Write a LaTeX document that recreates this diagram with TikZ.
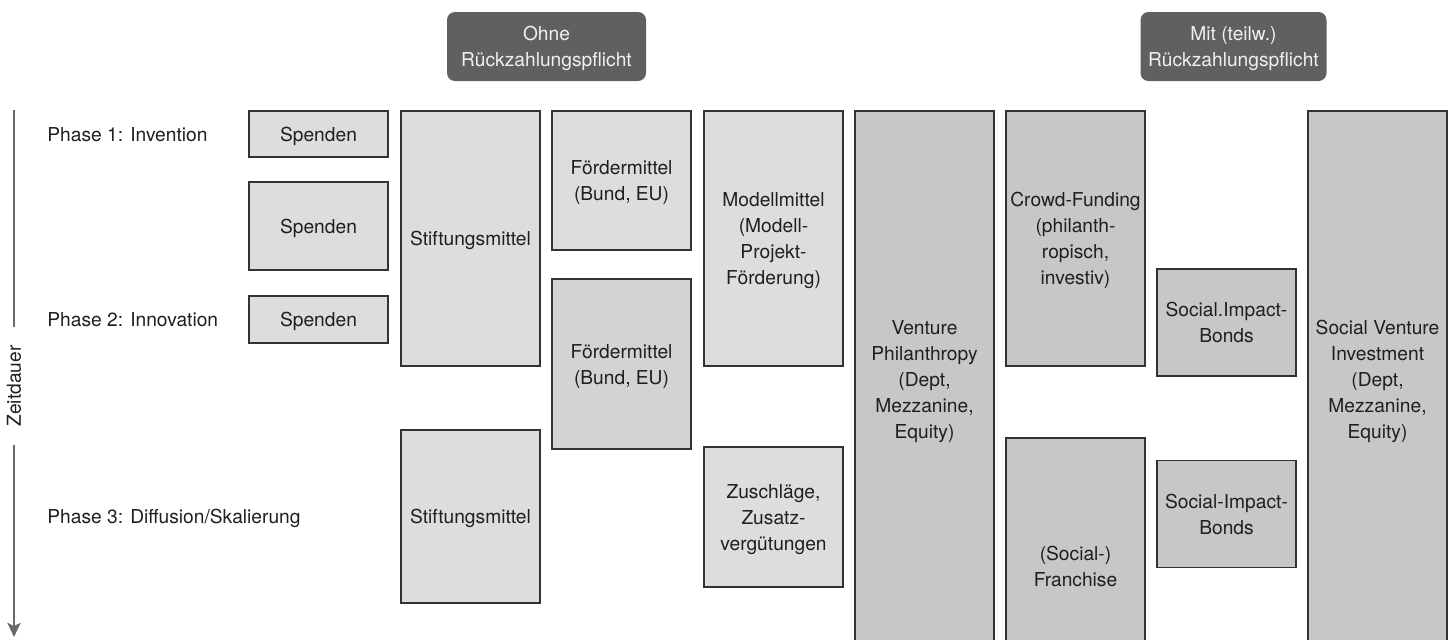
\documentclass[tikz,border=0pt]{standalone}
\usepackage{fontspec}
\setmainfont{TeX Gyre Heros}
\usepackage{xcolor}
\usepackage{tikz}
\usetikzlibrary{arrows.meta,positioning}
\definecolor{hell}{HTML}{DCDDDF}
\definecolor{mittel}{HTML}{D2D3D5}
\definecolor{dunkel}{HTML}{C6C7C9}
\definecolor{kopf}{HTML}{606062}
\definecolor{rand}{HTML}{333333}
\definecolor{pfeil}{HTML}{6A6A6A}
\tikzstyle{kasten}=[draw=rand, line width=0.6pt, text=black!88, align=center, minimum width=69.5pt, inner sep=1pt, text depth=0pt, font=\fontsize{9.6}{13}\selectfont]
\tikzstyle{kopfbox}=[fill=kopf, rounded corners=4pt, text=white!94!black, align=center, minimum height=34.5pt, text depth=0pt, font=\fontsize{9.6}{13}\selectfont]
\tikzstyle{phase}=[anchor=west, inner sep=0pt, text=black!88, text depth=0pt, font=\fontsize{9.6}{13}\selectfont]

\begin{document}
\begin{tikzpicture}[x=0.5pt,y=-0.5pt]

\clip (0,0) rectangle (1456,639);

% Kopf
\node[kopfbox, minimum width=99.5pt] (ohne) at (546.5,46.5) {Ohne\\R\"uckzahlungspflicht};
\node[kopfbox, minimum width=93pt] (mit) at (1233.5,46.5) {Mit (teilw.)\\R\"uckzahlungspflicht};

% Zeitachse
\coordinate (oben) at (14,110);
\coordinate (unten) at (14,637);
\node[rotate=90, inner sep=0pt, outer sep=9pt, text=black!88, font=\fontsize{9.6}{13}\selectfont] (zeit) at (14,386) {Zeitdauer};
\draw[pfeil, line width=1.3pt] (oben) -- (zeit);
\draw[pfeil, line width=1.3pt, -{Stealth[length=7pt,width=6.5pt,inset=1.5pt]}] (zeit) -- (unten);

% Phasen
\node[phase] (ph1) at (47,134) {Phase 1: Invention};
\node[phase] (ph2) at (47,319.5) {Phase 2: Innovation};
\node[phase] (ph3) at (47,516.5) {Phase 3: Diffusion/Skalierung};

% ohne Rueckzahlung
\node[kasten, fill=hell, minimum height=23pt] (sp1) at (318.5,134) {Spenden};
\node[kasten, fill=hell, minimum height=44pt] (sp2) at (318.5,226) {Spenden};
\node[kasten, fill=hell, minimum height=23.5pt] (sp3) at (318.5,319.5) {Spenden};
\node[kasten, fill=hell, minimum height=127.5pt] (st1) at (470.5,238.5) {Stiftungsmittel};
\node[kasten, fill=hell, minimum height=86.5pt] (st2) at (470.5,516.5) {Stiftungsmittel};
\node[kasten, fill=hell, minimum height=69.5pt] (fm1) at (621.5,180.5) {F\"ordermittel\\(Bund, EU)};
\node[kasten, fill=mittel, minimum height=85pt] (fm2) at (621.5,364) {F\"ordermittel\\(Bund, EU)};
\node[kasten, fill=hell, minimum height=127.5pt] (mm) at (773.5,238.5) {Modellmittel\\(Modell-\\Projekt-\\F\"orderung)};
\node[kasten, fill=hell, minimum height=70pt] (zu) at (773.5,517) {Zuschl\"age,\\Zusatz-\\verg\"utungen};

% mit Rueckzahlung
\node[kasten, fill=dunkel, minimum height=268pt] (vp) at (924.5,379) {Venture\\Philanthropy\\(Dept,\\Mezzanine,\\Equity)};
\node[kasten, fill=dunkel, minimum height=127.5pt] (cf) at (1075.5,238.5) {Crowd-Funding\\(philanth-\\ropisch,\\investiv)};
\node[kasten, fill=dunkel, minimum height=128pt] (fr) at (1075.5,566) {(Social-)\\Franchise};
\node[kasten, fill=dunkel, minimum height=53.5pt] (sib1) at (1226.5,322.5) {Social.Impact-\\Bonds};
\node[kasten, fill=dunkel, minimum height=53.5pt] (sib2) at (1226.5,514) {Social-Impact-\\Bonds};
\node[kasten, fill=dunkel, minimum height=268pt] (svi) at (1377.5,379) {Social Venture\\Investment\\(Dept,\\Mezzanine,\\Equity)};

\end{tikzpicture}
\end{document}
